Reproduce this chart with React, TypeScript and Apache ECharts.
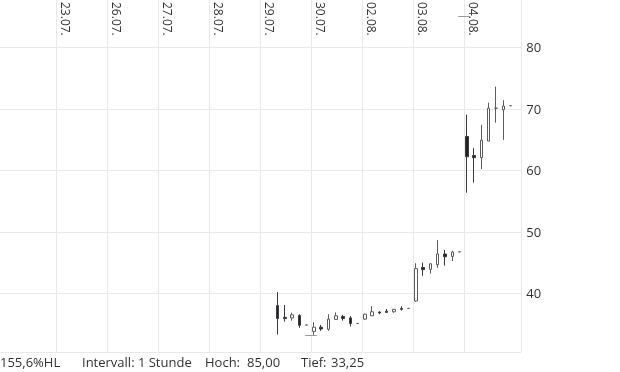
import React, { useEffect, useRef } from 'react';
import * as echarts from 'echarts';

// trading days shown at the top (each day = 7 hourly slots)
const dayLabels = ['23.07.', '26.07.', '27.07.', '28.07.', '29.07.', '30.07.', '02.08.', '03.08.', '04.08.'];
const slotsPerDay = 7;
const firstDayStart = 14;

// hourly candles: day index into dayLabels, hour slot inside that day
const candleDay = [4, 4, 4, 4, 4, 5, 5, 5, 5, 5, 5, 5, 6, 6, 6, 6, 6, 6, 6, 7, 7, 7, 7, 7, 7, 7, 8, 8, 8, 8, 8, 8, 8];
const candleSlot = [2, 3, 4, 5, 6, 0, 1, 2, 3, 4, 5, 6, 0, 1, 2, 3, 4, 5, 6, 0, 1, 2, 3, 4, 5, 6, 0, 1, 2, 3, 4, 5, 6];
const opens = [38.0, 36.1, 36.0, 36.4, 34.85, 33.8, 34.5, 34.15, 35.75, 36.25, 36.0, 35.1, 35.8, 36.35, 36.95, 37.1, 37.0, 37.55, 37.55, 38.75, 44.2, 43.9, 44.65, 46.4, 46.0, 46.75, 65.5, 62.4, 62.05, 64.75, 70.1, 69.85, 70.5];
const closes = [35.9, 35.9, 36.5, 34.8, 34.85, 34.5, 34.2, 35.8, 36.35, 35.9, 35.1, 35.1, 36.6, 37.0, 36.8, 36.9, 37.4, 37.4, 37.55, 44.05, 43.85, 44.8, 46.4, 45.95, 46.7, 46.75, 62.2, 62.05, 64.9, 70.1, 70.1, 70.45, 70.5];
const lows = [33.3, 35.4, 35.55, 34.4, 34.85, 33.25, 33.9, 33.9, 35.65, 35.55, 34.6, 35.1, 35.7, 36.3, 36.6, 36.9, 36.85, 37.2, 37.55, 38.6, 42.85, 43.2, 44.15, 44.5, 45.25, 46.75, 56.35, 58.0, 60.2, 64.75, 67.75, 64.95, 70.5];
const highs = [40.2, 38.1, 36.85, 36.6, 34.85, 35.3, 34.85, 36.6, 36.9, 36.5, 36.3, 35.1, 36.7, 37.9, 37.1, 37.45, 37.45, 37.9, 37.55, 44.9, 45.0, 44.9, 48.65, 47.05, 46.9, 46.75, 69.05, 63.6, 67.4, 71.0, 73.6, 71.4, 70.5];

// period high / low and the day where they are marked
const periodHigh = 85.0;
const periodHighDay = 8;
const periodLow = 33.25;
const periodLowDay = 5;

const yTicks = [40, 50, 60, 70, 80];
const intervalText = 'Intervall: 1 Stunde';

export default function App() {
  const ref = useRef<HTMLDivElement>(null);
  useEffect(() => {
    const chart = echarts.init(ref.current!, null, { renderer: 'svg' });
    const dayStart = (d: number) => firstDayStart + d * slotsPerDay;
    const candles = candleDay.map((d, i) => [dayStart(d) + candleSlot[i] + 0.4, opens[i], closes[i], lows[i], highs[i]]);
    const xMin = 6.31;
    const xMax = 77.87;
    const yMin = 30.46;
    const yMax = 87.69;
    const dayStarts = dayLabels.map((_, i) => dayStart(i));
    const labelShift = 1.24;
    const fmt = (v: number) => v.toFixed(2).replace('.', ',');
    const pct = (((periodHigh - periodLow) / periodLow) * 100).toFixed(1).replace('.', ',') + '%HL';
    const half = 0.8;
    const txt = (text: string, x: number) => ({
      type: 'text',
      x,
      y: 362,
      style: { text, fill: '#333', font: '13px "Open Sans"', textVerticalAlign: 'middle', textAlign: 'left' },
    });

    const option: any = {
      animation: false,
      textStyle: { fontFamily: 'Open Sans' },
      grid: { left: 0, right: 98.7, top: 0, bottom: 20, outerBoundsMode: 'none', containLabel: false },
      xAxis: {
        type: 'value',
        position: 'top',
        min: xMin,
        max: xMax,
        axisLine: { show: false },
        axisTick: { show: false, customValues: [...dayStarts, xMax] },
        splitLine: { show: true, lineStyle: { color: '#e9e9e9', width: 1 } },
        axisLabel: {
          show: true,
          inside: true,
          rotate: 90,
          margin: 2,
          fontSize: 12,
          color: '#333',
          fontFamily: 'Open Sans',
          customValues: dayStarts.map((v) => v + labelShift),
          formatter: (v: number) => {
            const i = Math.round((v - labelShift - firstDayStart) / slotsPerDay);
            return dayLabels[i] ?? '';
          },
        },
      },
      yAxis: {
        type: 'value',
        position: 'right',
        min: yMin,
        max: yMax,
        axisLine: { show: false },
        axisTick: { show: false, customValues: [yMin, ...yTicks] },
        splitLine: { show: true, lineStyle: { color: '#e9e9e9', width: 1 } },
        axisLabel: {
          margin: 5,
          fontSize: 13,
          color: '#333',
          fontFamily: 'Open Sans',
          customValues: yTicks,
          formatter: (v: number) => String(v),
        },
      },
      series: [
        {
          type: 'candlestick',
          data: candles,
          barWidth: 3,
          itemStyle: {
            color: '#ffffff',
            color0: '#222222',
            borderColor: '#5a5e63',
            borderColor0: '#3a3d40',
            borderColorDoji: '#5a5e63',
            borderWidth: 1,
          },
          markLine: {
            silent: true,
            symbol: ['none', 'none'],
            label: { show: false },
            lineStyle: { color: '#9a9a9a', width: 1, type: 'solid' },
            data: [
              [
                { coord: [dayStart(periodHighDay) - half, periodHigh] },
                { coord: [dayStart(periodHighDay) + half, periodHigh] },
              ],
              [
                { coord: [dayStart(periodLowDay) - half, periodLow] },
                { coord: [dayStart(periodLowDay) + half, periodLow] },
              ],
            ],
          },
        },
      ],
      graphic: [
        txt(pct, 0),
        txt(intervalText, 82),
        txt('Hoch:', 205),
        txt(fmt(periodHigh), 247),
        txt('Tief:', 301),
        txt(fmt(periodLow), 331),
      ],
    };
    chart.setOption(option);
    return () => chart.dispose();
  }, []);
  return <div ref={ref} style={{ position: 'fixed', left: 0, top: 0, width: 620, height: 372 }} />;
}
